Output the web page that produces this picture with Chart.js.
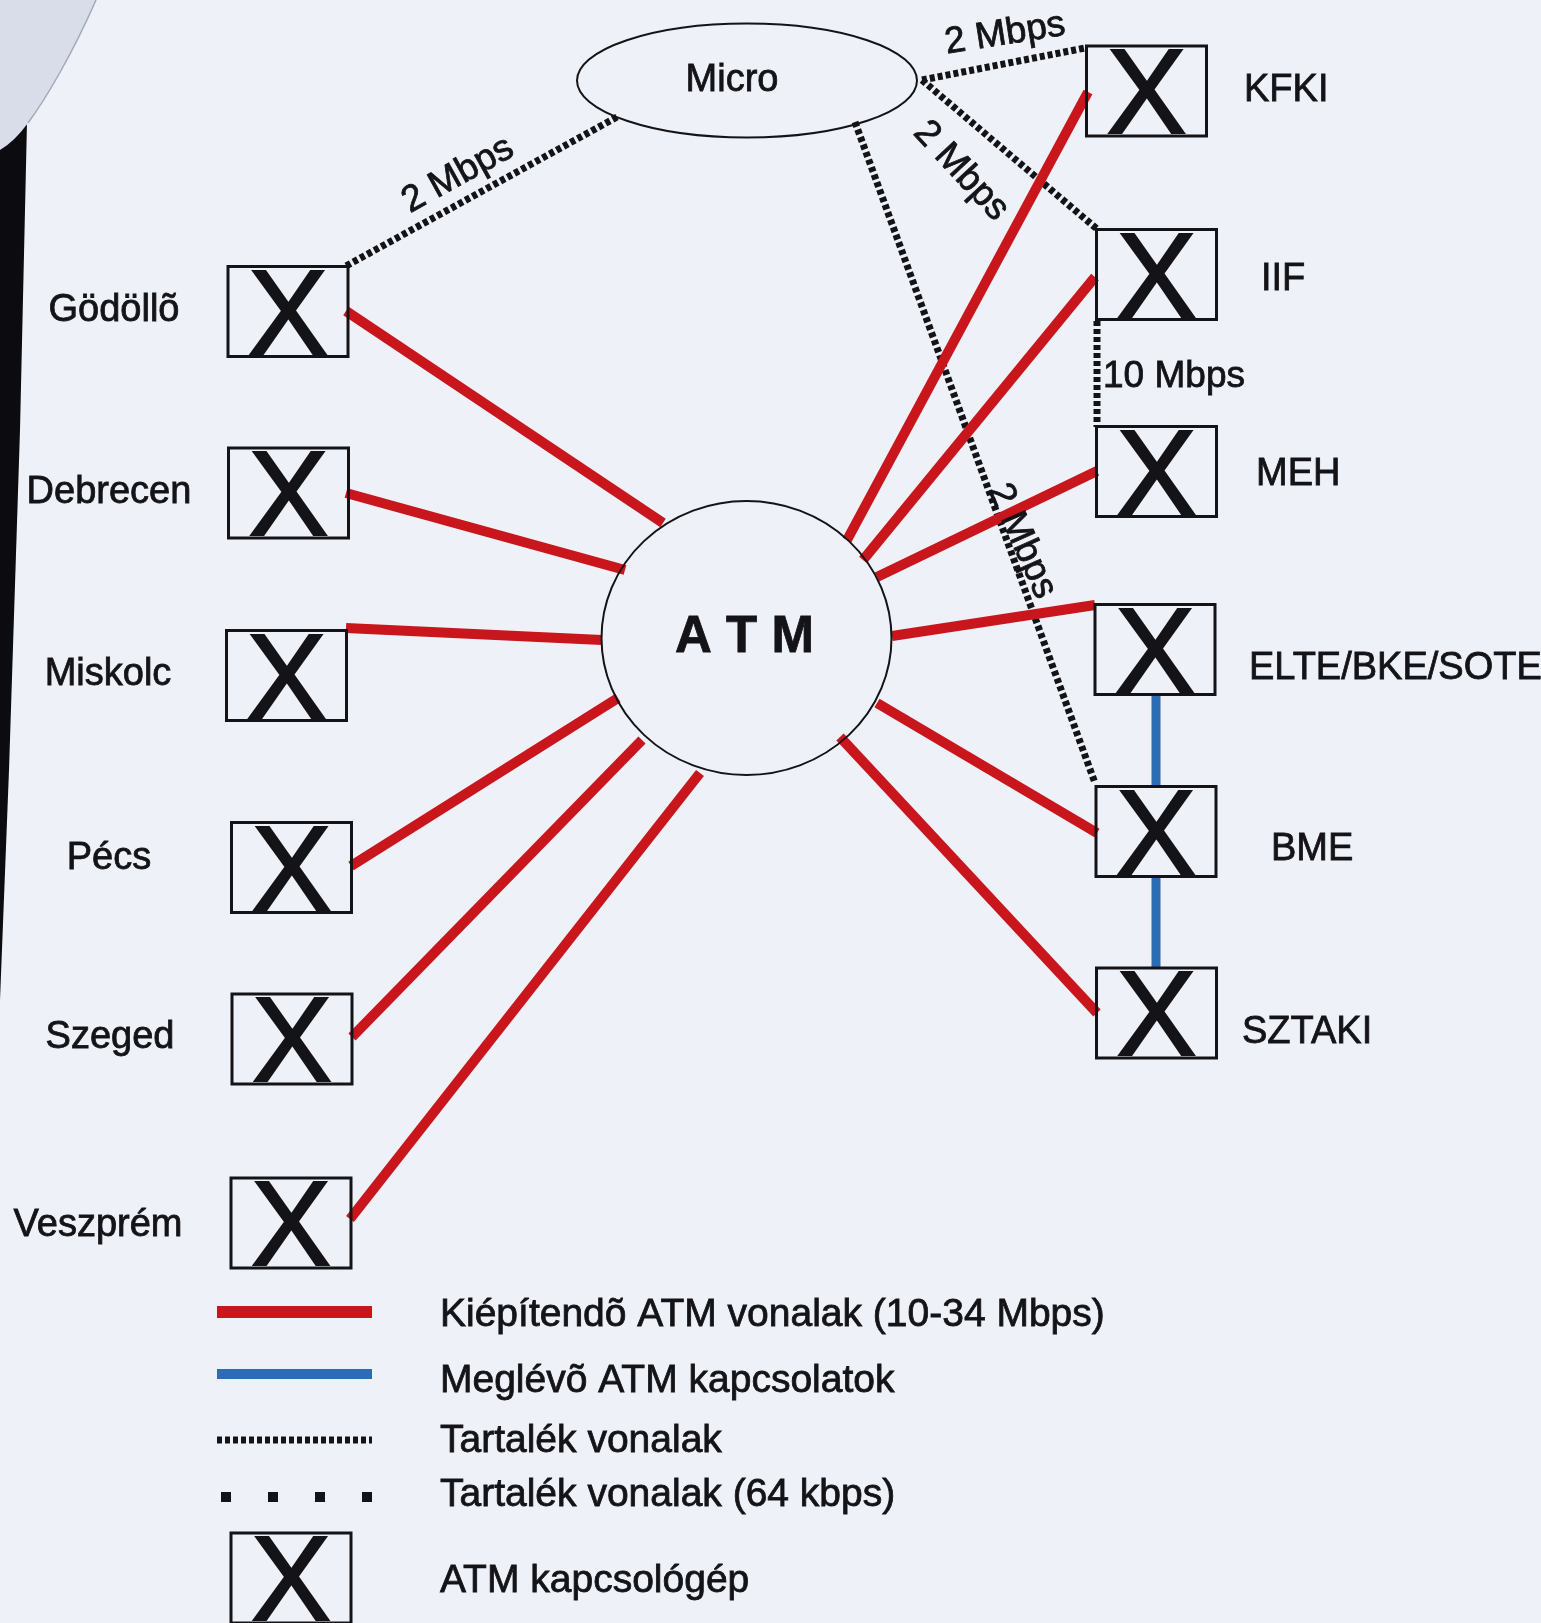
<!doctype html>
<html lang="hu">
<head>
<meta charset="utf-8" />
<title>ATM hálózat</title>
<script src="https://cdn.jsdelivr.net/npm/chart.js@4.4.1/dist/chart.umd.min.js"></script>
<style>
    html, body { margin: 0; padding: 0; background: #eff1f8; }
    canvas { display: block; }
</style>
</head>
<body>
<canvas id="myChart" width="1541" height="1623"></canvas>
<script>
// ATM kapcsológépek: név, doboz középpontja, felirat helye
const nodeNames = ['Gödöllõ', 'Debrecen', 'Miskolc', 'Pécs', 'Szeged', 'Veszprém',
                   'KFKI', 'IIF', 'MEH', 'ELTE/BKE/SOTE', 'BME', 'SZTAKI'];
const nodeX = [288, 288.5, 286.5, 291.5, 292, 291, 1146.5, 1156.5, 1156.5, 1155, 1156, 1156.5];
const nodeY = [311.5, 493, 675.5, 867.5, 1039, 1223, 91, 274.5, 471.5, 649.5, 831.5, 1013];
const labelX = [114, 109, 108, 109, 110, 98, 1244, 1261, 1256, 1249, 1271, 1242];
const labelY = [311, 493, 675, 859, 1038, 1226, 91, 280, 475, 669, 850, 1033];

// kiépítendő ATM vonalak (piros): doboztól a körig
const redX1 = [346, 346, 346, 351, 352, 350, 1088, 1095, 1097, 1095, 1097, 1097];
const redY1 = [311, 493, 628, 866, 1037, 1219, 92, 277, 471, 605, 833, 1013];
const redX2 = [663, 625, 602, 618, 642, 700, 847, 863, 877, 892, 877, 840];
const redY2 = [523, 570, 640, 698, 740, 773, 540, 560, 577, 636, 703, 737];

// meglévő ATM kapcsolatok (kék)
const blueX1 = [1156, 1156];
const blueY1 = [694, 878];
const blueX2 = [1156, 1156];
const blueY2 = [785, 968];

// tartalék vonalak (pontozott)
const dotX1 = [617, 922, 922, 855, 1097];
const dotY1 = [117, 80, 80, 122, 321];
const dotX2 = [346, 1085, 1097, 1095, 1097];
const dotY2 = [266, 48, 229, 783, 427];

// sávszélesség feliratok a tartalék vonalakon
const rateText = ['2 Mbps', '2 Mbps', '2 Mbps', '2 Mbps', '10 Mbps'];
const rateX = [458, 1005, 961, 1022, 1174];
const rateY = [175, 34, 171, 541, 377];
const rateAngle = [-29, -9, 47, 66, 0];

// Micro ellipszis és ATM kör
const cloudNames = ['Micro', 'A T M'];
const cloudX = [747, 746.5];
const cloudY = [80.5, 638];
const cloudRx = [170, 145];
const cloudRy = [57, 137];

// jelmagyarázat
const legendText = ['Kiépítendõ ATM vonalak (10-34 Mbps)', 'Meglévõ ATM kapcsolatok',
                    'Tartalék vonalak', 'Tartalék vonalak (64 kbps)', 'ATM kapcsológép'];
const legendTextY = [1315, 1381, 1441, 1495, 1581];
const legendLineX = [217, 372];
const legendLineY = [1312, 1374, 1440, 1497];
const legendBoxX = 291;
const legendBoxY = 1578;

const FONT = '"Liberation Sans", Arial, sans-serif';
const RED = '#c8161c';
const BLUE = '#2c6cb4';
const INK = '#141418';

function seg(x1, y1, x2, y2) {
    return [{x: x1, y: y1}, {x: x2, y: y2}];
}

const datasets = [];
for (let i = 0; i < redX1.length; i++) {
    datasets.push({data: seg(redX1[i], redY1[i], redX2[i], redY2[i]), borderColor: RED, borderWidth: 10});
}
for (let i = 0; i < blueX1.length; i++) {
    datasets.push({data: seg(blueX1[i], blueY1[i], blueX2[i], blueY2[i]), borderColor: BLUE, borderWidth: 9});
}
for (let i = 0; i < dotX1.length; i++) {
    datasets.push({data: seg(dotX1[i], dotY1[i], dotX2[i], dotY2[i]), borderColor: INK, borderWidth: 7, borderDash: [5, 3]});
}
// jelmagyarázat mintavonalai
datasets.push({data: seg(legendLineX[0], legendLineY[0], legendLineX[1], legendLineY[0]), borderColor: RED, borderWidth: 12});
datasets.push({data: seg(legendLineX[0], legendLineY[1], legendLineX[1], legendLineY[1]), borderColor: BLUE, borderWidth: 10});
datasets.push({data: seg(legendLineX[0], legendLineY[2], legendLineX[1], legendLineY[2]), borderColor: INK, borderWidth: 7, borderDash: [5, 3]});
datasets.push({data: seg(221, legendLineY[3], legendLineX[1], legendLineY[3]), borderColor: INK, borderWidth: 10, borderDash: [10, 37]});

datasets.forEach(d => {
    d.showLine = true;
    d.pointRadius = 0;
    d.borderCapStyle = 'butt';
    d.clip = false;
});

// háttér: papír, felhajlott sarok, fekete csík a bal szélen
const paperPlugin = {
    id: 'paper',
    beforeDraw(chart) {
        const ctx = chart.ctx, sx = chart.scales.x, sy = chart.scales.y;
        const X = v => sx.getPixelForValue(v), Y = v => sy.getPixelForValue(v);
        ctx.save();
        ctx.fillStyle = '#eff1f8';
        ctx.fillRect(0, 0, chart.width, chart.height);
        // fekete csík
        ctx.fillStyle = '#0b0b10';
        ctx.beginPath();
        ctx.moveTo(X(0), Y(128));
        ctx.lineTo(X(27), Y(122));
        ctx.lineTo(X(20), Y(430));
        ctx.lineTo(X(9), Y(770));
        ctx.lineTo(X(0), Y(1000));
        ctx.closePath();
        ctx.fill();
        // felhajlott sarok
        ctx.fillStyle = '#d9dde9';
        ctx.beginPath();
        ctx.moveTo(X(0), Y(0));
        ctx.lineTo(X(96), Y(0));
        ctx.bezierCurveTo(X(72), Y(55), X(45), Y(100), X(28), Y(123));
        ctx.quadraticCurveTo(X(14), Y(142), X(0), Y(150));
        ctx.closePath();
        ctx.fill();
        ctx.strokeStyle = '#a4a9ba';
        ctx.lineWidth = 1.5;
        ctx.beginPath();
        ctx.moveTo(X(96), Y(0));
        ctx.bezierCurveTo(X(72), Y(55), X(45), Y(100), X(28), Y(123));
        ctx.stroke();
        ctx.restore();
    }
};

// szöveg kicsit vastagabban, mint a szkennelt lapon
function inkText(ctx, text, x, y) {
    ctx.fillText(text, x, y);
    ctx.strokeText(text, x, y);
}

function drawSwitch(ctx, cx, cy) {
    ctx.lineWidth = 3;
    ctx.strokeStyle = INK;
    ctx.strokeRect(cx - 60, cy - 45, 120, 90);
    ctx.fillStyle = INK;
    ctx.font = '120px ' + FONT;
    ctx.textAlign = 'center';
    ctx.textBaseline = 'alphabetic';
    ctx.lineWidth = 2;
    inkText(ctx, 'X', cx, cy + 42);
}

const nodesPlugin = {
    id: 'nodes',
    afterDatasetsDraw(chart) {
        const ctx = chart.ctx, sx = chart.scales.x, sy = chart.scales.y;
        const X = v => sx.getPixelForValue(v), Y = v => sy.getPixelForValue(v);
        ctx.save();
        ctx.strokeStyle = INK;
        ctx.fillStyle = INK;

        // Micro ellipszis, ATM kör
        for (let i = 0; i < cloudNames.length; i++) {
            ctx.beginPath();
            ctx.ellipse(X(cloudX[i]), Y(cloudY[i]), cloudRx[i], cloudRy[i], 0, 0, Math.PI * 2);
            ctx.lineWidth = 2;
            ctx.stroke();
        }
        ctx.textAlign = 'center';
        ctx.textBaseline = 'middle';
        ctx.lineWidth = 0.8;
        ctx.font = '38px ' + FONT;
        inkText(ctx, cloudNames[0], X(cloudX[0]) - 15, Y(cloudY[0]));
        ctx.font = 'bold 51px ' + FONT;
        inkText(ctx, cloudNames[1], X(cloudX[1]) - 2, Y(cloudY[1]));

        // kapcsológépek és feliratok
        for (let i = 0; i < nodeNames.length; i++) {
            drawSwitch(ctx, X(nodeX[i]), Y(nodeY[i]));
            ctx.font = '38px ' + FONT;
            ctx.textBaseline = 'middle';
            ctx.textAlign = i < 6 ? 'center' : 'left';
            ctx.lineWidth = 0.8;
            inkText(ctx, nodeNames[i], X(labelX[i]), Y(labelY[i]));
        }

        // sávszélesség feliratok
        ctx.font = '37px ' + FONT;
        ctx.lineWidth = 0.8;
        for (let i = 0; i < rateText.length; i++) {
            ctx.save();
            ctx.translate(X(rateX[i]), Y(rateY[i]));
            ctx.rotate(rateAngle[i] * Math.PI / 180);
            ctx.textAlign = 'center';
            ctx.textBaseline = 'middle';
            inkText(ctx, rateText[i], 0, 0);
            ctx.restore();
        }

        // jelmagyarázat
        drawSwitch(ctx, X(legendBoxX), Y(legendBoxY));
        ctx.font = '39px ' + FONT;
        ctx.textAlign = 'left';
        ctx.textBaseline = 'middle';
        ctx.lineWidth = 0.8;
        for (let i = 0; i < legendText.length; i++) {
            inkText(ctx, legendText[i], X(440), Y(legendTextY[i]));
        }
        ctx.restore();
    }
};

const mychart = new Chart(document.getElementById('myChart'), {
    type: 'scatter',
    data: { datasets: datasets },
    options: {
        responsive: false,
        animation: false,
        layout: { padding: 0 },
        scales: {
            x: { type: 'linear', min: 0, max: 1541, display: false },
            y: { type: 'linear', min: 0, max: 1623, reverse: true, display: false }
        },
        plugins: {
            legend: { display: false },
            tooltip: { enabled: false }
        },
        events: []
    },
    plugins: [paperPlugin, nodesPlugin]
});
</script>
</body>
</html>
